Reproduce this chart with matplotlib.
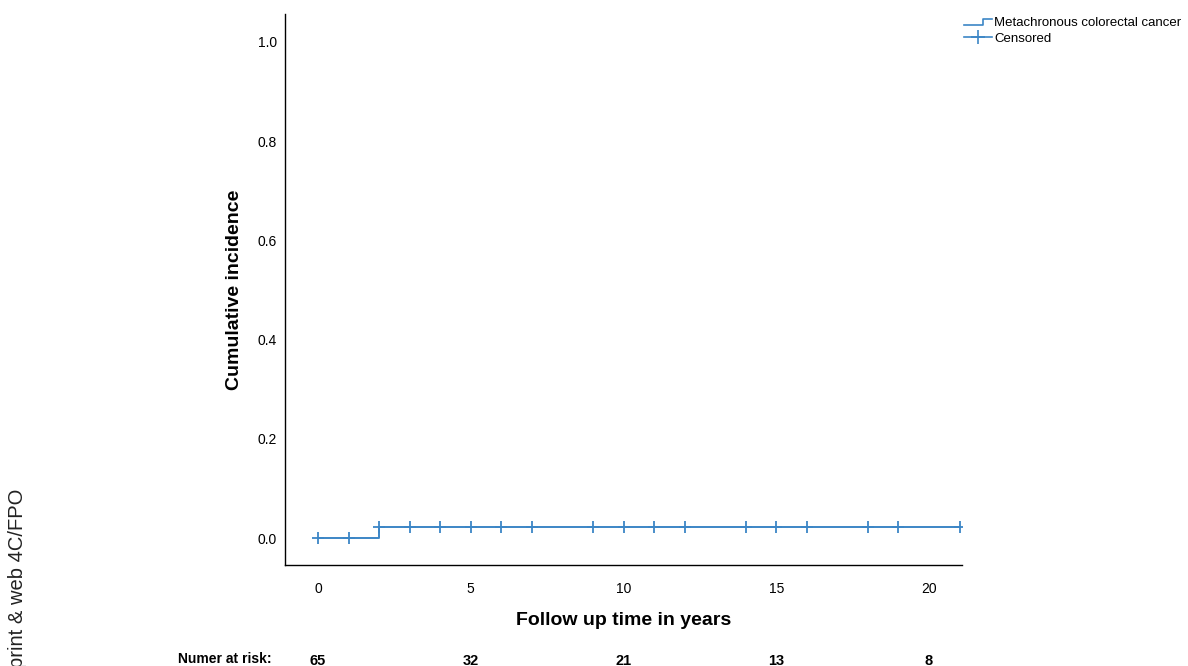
import matplotlib
matplotlib.use("Agg")
import matplotlib.pyplot as plt
from matplotlib.lines import Line2D
from matplotlib.legend_handler import HandlerBase

plt.rcParams['font.family'] = ['Liberation Sans', 'DejaVu Sans']

# Data
step_times = [0, 2, 21]
step_values = [0.0, 0.022, 0.022]
censor_times = [0, 1, 2, 3, 4, 5, 6, 7, 9, 10, 11, 12, 14, 15, 16, 18, 19, 21]
risk_times = [0, 5, 10, 15, 20]
risk_counts = [65, 32, 21, 13, 8]
x_ticks = [0, 5, 10, 15, 20]
y_ticks = [0.0, 0.2, 0.4, 0.6, 0.8, 1.0]

color = '#3C86C6'


def cum_at(t):
    v = step_values[0]
    for st, sv in zip(step_times, step_values):
        if t >= st:
            v = sv
    return v


fig = plt.figure(figsize=(11.88, 6.66), dpi=100)
ax = fig.add_axes([0.2399, 0.1517, 0.5699, 0.8273])

ax.step(step_times, step_values, where='post', color=color, lw=1.4)
ax.plot(censor_times, [cum_at(t) for t in censor_times], linestyle='none',
        marker='+', markersize=8, markeredgewidth=1.3, color=color)

ax.set_xlim(-1.08, 21.08)
ax.set_ylim(-0.054, 1.056)
ax.set_xticks(x_ticks)
ax.set_yticks(y_ticks)
ax.set_yticklabels([f"{v:.1f}" for v in y_ticks])
ax.tick_params(axis='both', length=0, labelsize=10)
ax.tick_params(axis='x', pad=12)
ax.tick_params(axis='y', pad=6)
for s in ['top', 'right']:
    ax.spines[s].set_visible(False)
for s in ['left', 'bottom']:
    ax.spines[s].set_linewidth(1.0)

ax.set_xlabel('Follow up time in years', fontsize=14, fontweight='bold', labelpad=12)
ax.set_ylabel('Cumulative incidence', fontsize=14, fontweight='bold', labelpad=10)


class StepHandler(HandlerBase):
    def create_artists(self, legend, orig_handle, xdescent, ydescent,
                       width, height, fontsize, trans):
        x0 = -xdescent
        y0 = -ydescent
        xs = [x0, x0 + width * 0.7, x0 + width * 0.7, x0 + width]
        ys = [y0 + height * 0.15, y0 + height * 0.15, y0 + height * 0.8, y0 + height * 0.8]
        l = Line2D(xs, ys, color=color, lw=1.2, transform=trans)
        return [l]


step_handle = Line2D([], [], color=color)
cens_handle = Line2D([], [], color=color, lw=1.2, marker='+', markersize=10,
                     markeredgewidth=1.2)
leg = fig.legend([step_handle, cens_handle],
                 ['Metachronous colorectal cancer', 'Censored'],
                 handler_map={step_handle: StepHandler()},
                 loc='upper left', bbox_to_anchor=(964 / 1188, 1 - 17 / 666),
                 frameon=False, fontsize=9.5, handlelength=2.1,
                 handletextpad=0.2, labelspacing=0.25, borderaxespad=0,
                 borderpad=0)

# Number at risk
for t, n in zip(risk_times, risk_counts):
    ax.text(t, -0.174, str(n), transform=ax.get_xaxis_transform(),
            ha='center', va='center', fontsize=10.5, fontweight='bold',
            family=['Liberation Sans Narrow', 'Liberation Sans', 'DejaVu Sans'])
fig.text(225 / 1188, 1 - 659 / 666, 'Numer at risk:', ha='center', va='center',
         fontsize=10, fontweight='bold',
         family=['Liberation Sans Narrow', 'Liberation Sans', 'DejaVu Sans'])

# Watermark
fig.text(18 / 1188, 1 - 489 / 666, 'print & web 4C/FPO', rotation=90,
         ha='center', va='top', fontsize=14.5, color='#222222')

fig.savefig('out.png', dpi=100)
